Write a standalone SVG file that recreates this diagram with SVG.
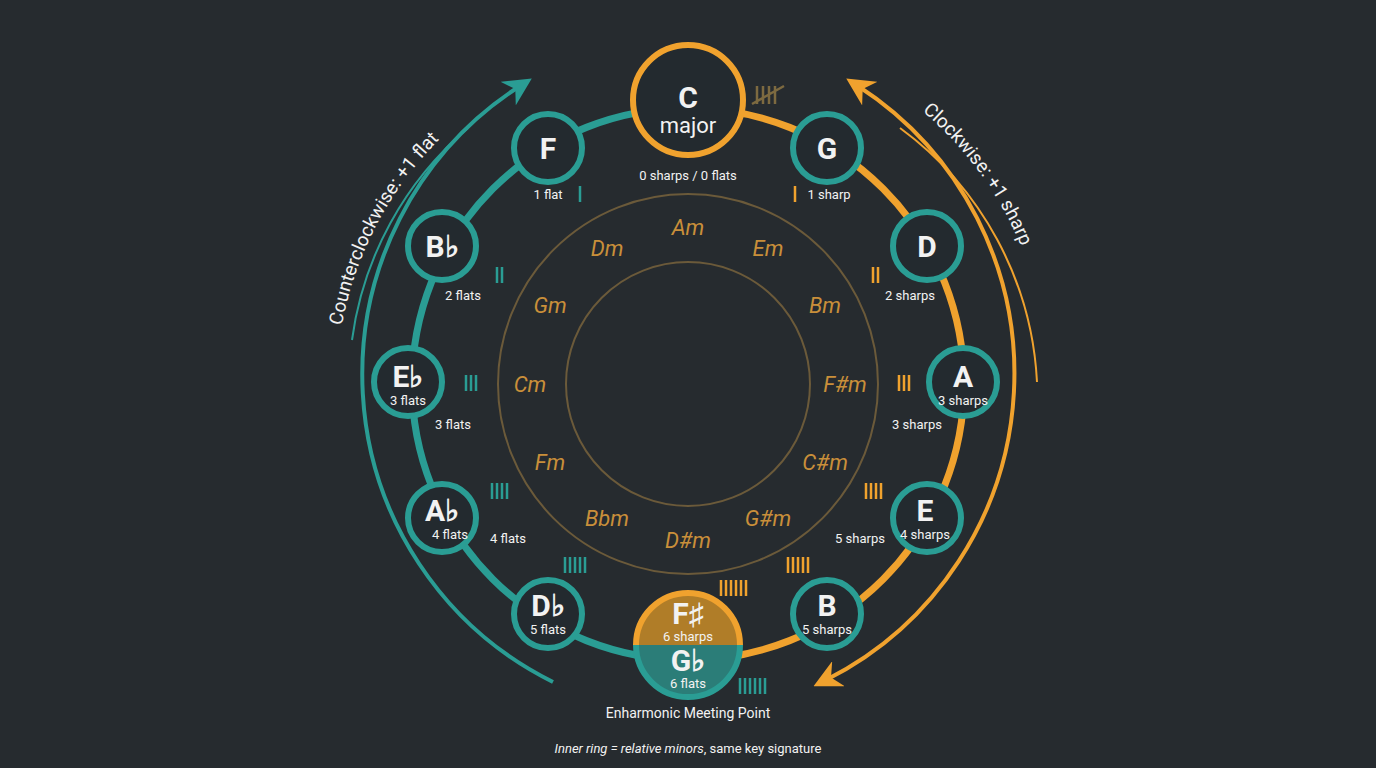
<svg xmlns="http://www.w3.org/2000/svg" width="1376" height="768" viewBox="0 0 1376 768">
<defs>
<style>
text{font-family:Roboto,"Liberation Sans",sans-serif;fill:#f2f2f2}
.node{fill:#232a2f;stroke:#2a9d94;stroke-width:6}
.big{font-size:30px;font-weight:bold;text-anchor:middle}
.sm{font-size:13px;text-anchor:middle}
.min{font-size:22px;font-style:italic;fill:#c98f3a;text-anchor:middle}
.tk{stroke-width:2.5}
.t{stroke:#2a9d94}.o{stroke:#f0a22e}
</style>
<marker id="at" viewBox="0 0 10 10" refX="5" refY="5" markerWidth="7" markerHeight="7" orient="auto"><path d="M0,0L10,5L0,10L3,5z" fill="#2a9d94"/></marker>
<marker id="ao" viewBox="0 0 10 10" refX="5" refY="5" markerWidth="7" markerHeight="7" orient="auto-start-reverse"><path d="M0,0L10,5L0,10L3,5z" fill="#f0a22e"/></marker>
<path id="ccw" d="M 345 470 A 355 355 0 0 1 560 60"/>
<path id="cw" d="M 820 50 A 360 360 0 0 1 1045 440"/>
</defs>
<rect width="1376" height="768" fill="#262b2f"/>
<g id="connectors" fill="none">
<path d="M 688 108 A 276 276 0 0 0 688 660" stroke="#2a9d94" stroke-width="7"/>
<path d="M 688 108 A 276 276 0 0 1 688 660" stroke="#f0a22e" stroke-width="7"/>
<circle cx="688" cy="384" r="190" stroke="#6b5a3a" stroke-width="2"/>
<circle cx="688" cy="384" r="122" stroke="#6b5a3a" stroke-width="2"/>
<path d="M 553 682 A 343 343 0 0 1 520 86" stroke="#2a9d94" stroke-width="4" marker-end="url(#at)"/>
<path d="M 468 128 A 336 336 0 0 0 352 340" stroke="#2a9d94" stroke-width="2"/>
<path d="M 858 86 A 343 343 0 0 1 826 680" stroke="#f0a22e" stroke-width="4" marker-start="url(#ao)" marker-end="url(#ao)"/>
<path d="M 900 128 A 336 336 0 0 1 1037 382" stroke="#f0a22e" stroke-width="2"/>
</g>
<text font-size="19"><textPath href="#ccw" startOffset="50%" text-anchor="middle">Counterclockwise: +1 flat</textPath></text>
<text font-size="19"><textPath href="#cw" startOffset="42%" text-anchor="middle">Clockwise: +1 sharp</textPath></text>
<g id="minors">
<text class="min" x="688" y="235">Am</text><text class="min" x="768" y="256">Em</text><text class="min" x="825" y="313">Bm</text><text class="min" x="845" y="392">F#m</text><text class="min" x="825" y="470">C#m</text><text class="min" x="768" y="526">G#m</text><text class="min" x="688" y="548">D#m</text><text class="min" x="607" y="526">Bbm</text><text class="min" x="550" y="470">Fm</text><text class="min" x="530" y="392">Cm</text><text class="min" x="550" y="313">Gm</text><text class="min" x="607" y="256">Dm</text>
</g>
<g id="C"><circle cx="688" cy="100" r="55" fill="#232a2f" stroke="#f0a22e" stroke-width="6"/><text class="big" x="688" y="108" font-size="38">C</text><text x="688" y="133" font-size="22" text-anchor="middle">major</text><text class="sm" x="688" y="180">0 sharps / 0 flats</text>
<g stroke="#7d6a40" stroke-width="2.5"><path d="M757 104V86M763 104V86M769 104V86M775 104V86M752 104L784 86"/></g></g>
<g id="F"><circle class="node" cx="548" cy="148" r="34"/><text class="big" x="548" y="159">F</text><text class="sm" x="548" y="199">1 flat</text><path class="tk t" d="M580 186V202"/></g>
<g id="G"><circle class="node" cx="827" cy="148" r="34"/><text class="big" x="827" y="159">G</text><text class="sm" x="829" y="199">1 sharp</text><path class="tk o" d="M795 186V202"/></g>
<g id="Bb"><circle class="node" cx="442" cy="246" r="34"/><text class="big" x="442" y="257">B♭</text><text class="sm" x="463" y="300">2 flats</text><path class="tk t" d="M497 267V283M502 267V283"/></g>
<g id="D"><circle class="node" cx="927" cy="246" r="34"/><text class="big" x="927" y="257">D</text><text class="sm" x="910" y="300">2 sharps</text><path class="tk o" d="M873 267V283M878 267V283"/></g>
<g id="Eb"><circle class="node" cx="408" cy="382" r="34"/><text class="big" x="408" y="387" font-size="24">E♭</text><text class="sm" x="408" y="405" font-size="12">3 flats</text><text class="sm" x="453" y="429">3 flats</text><path class="tk t" d="M466 375V391M471 375V391M476 375V391"/></g>
<g id="A"><circle class="node" cx="963" cy="382" r="34"/><text class="big" x="963" y="387" font-size="24">A</text><text class="sm" x="963" y="405" font-size="12">3 sharps</text><text class="sm" x="917" y="429">3 sharps</text><path class="tk o" d="M899 375V391M904 375V391M909 375V391"/></g>
<g id="Ab"><circle class="node" cx="442" cy="518" r="34"/><text class="big" x="442" y="521" font-size="24">A♭</text><text class="sm" x="450" y="539" font-size="12">4 flats</text><text class="sm" x="508" y="543">4 flats</text><path class="tk t" d="M492 483V499M497 483V499M502 483V499M507 483V499"/></g>
<g id="E"><circle class="node" cx="927" cy="518" r="34"/><text class="big" x="925" y="521" font-size="24">E</text><text class="sm" x="925" y="539" font-size="12">4 sharps</text><text class="sm" x="860" y="543">5 sharps</text><path class="tk o" d="M866 483V499M871 483V499M876 483V499M881 483V499"/></g>
<g id="Db"><circle class="node" cx="548" cy="614" r="34"/><text class="big" x="548" y="616" font-size="24">D♭</text><text class="sm" x="548" y="634" font-size="12">5 flats</text><path class="tk t" d="M565 557V573M570 557V573M575 557V573M580 557V573M585 557V573"/></g>
<g id="B"><circle class="node" cx="827" cy="614" r="34"/><text class="big" x="827" y="616" font-size="24">B</text><text class="sm" x="827" y="634" font-size="12">5 sharps</text><path class="tk o" d="M788 557V573M793 557V573M798 557V573M803 557V573M808 557V573"/></g>
<g id="FsGb">
<path d="M 636 645 A 52 52 0 0 1 740 645 Z" fill="#b07d28"/>
<path d="M 636 645 A 52 52 0 0 0 740 645 Z" fill="#2b7d78"/>
<path d="M 636 645 A 52 52 0 0 1 740 645" fill="none" stroke="#f0a22e" stroke-width="6"/>
<path d="M 636 645 A 52 52 0 0 0 740 645" fill="none" stroke="#2a9d94" stroke-width="6"/>
<text class="big" x="688" y="624" font-size="24">F♯</text><text class="sm" x="688" y="641" font-size="12">6 sharps</text>
<text class="big" x="688" y="671" font-size="24">G♭</text><text class="sm" x="688" y="688" font-size="12">6 flats</text>
<text x="688" y="718" font-size="14" text-anchor="middle">Enharmonic Meeting Point</text>
<path class="tk o" d="M721 580V596M726 580V596M731 580V596M736 580V596M741 580V596M746 580V596"/>
<path class="tk t" d="M740 678V694M745 678V694M750 678V694M755 678V694M760 678V694M765 678V694"/>
</g>
<text x="688" y="753" font-size="13" text-anchor="middle" fill="#d8d8d8"><tspan font-style="italic">Inner ring = relative minors</tspan>, same key signature</text>
</svg>
